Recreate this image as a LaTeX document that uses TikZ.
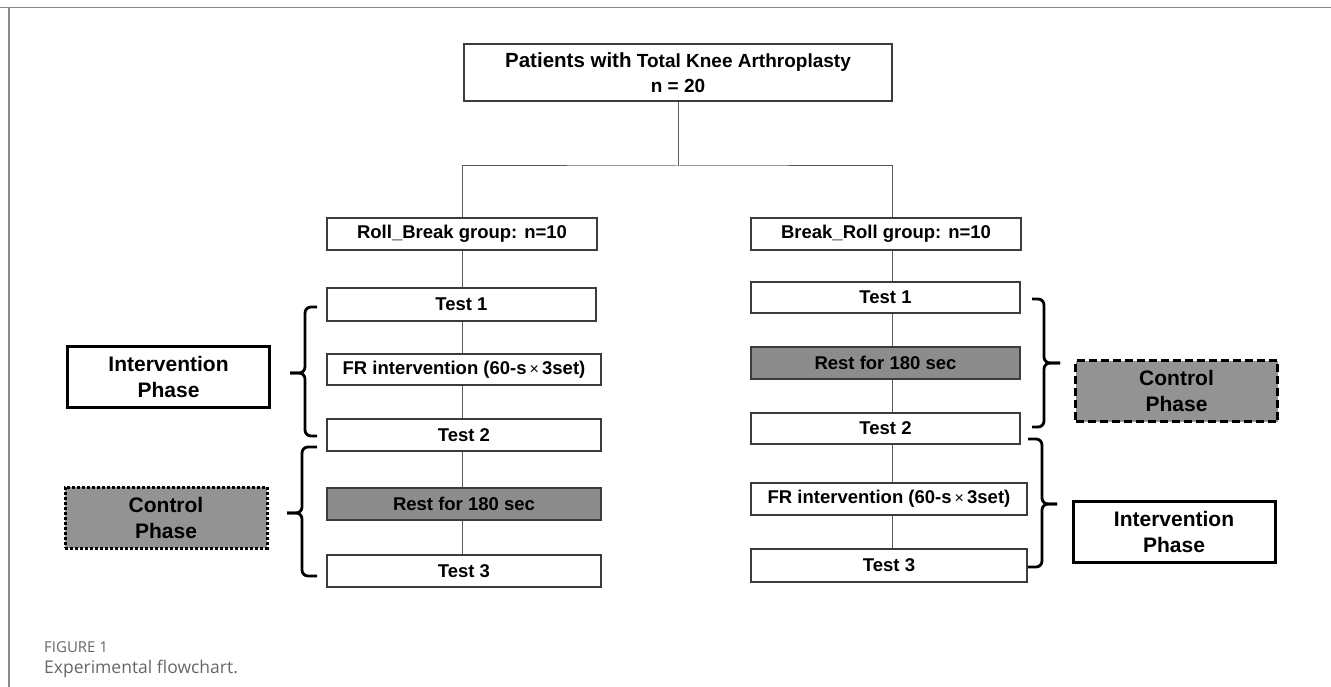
\documentclass[tikz,border=0pt]{standalone}
\usepackage{fontspec}
\setmainfont{Liberation Sans}
\newfontfamily\capfont{Open Sans}

\definecolor{boxline}{HTML}{3C3C3C}
\definecolor{linkgray}{HTML}{5A5A5A}
\definecolor{restgray}{HTML}{8C8C8C}
\definecolor{phasegray}{HTML}{939393}
\definecolor{framegray}{HTML}{8A8A8A}
\definecolor{capgray}{HTML}{666666}

\newcommand{\boxfont}{\bfseries\fontsize{18.5}{22}\selectfont}
\newcommand{\phasefont}{\bfseries\fontsize{21}{26}\selectfont}

\tikzset{
	box/.style={draw=boxline, line width=1.2pt, fill=white, minimum height=32pt, inner sep=0pt, font=\boxfont},
	restbox/.style={box, fill=restgray},
	phase/.style={draw=black, line width=3pt, minimum width=202pt, minimum height=61pt, inner sep=0pt, align=center, font=\phasefont},
	link/.style={draw=linkgray, line width=1pt},
	bracket/.style={draw=black, line width=2.8pt, rounded corners=6pt},
	frame/.style={draw=framegray, line width=1.5pt},
}

\begin{document}
\begin{tikzpicture}[x=1pt, y=1pt]

	\useasboundingbox (0,0) rectangle (1331,-687);
	\draw [frame] (0,-7.5) -- (1331,-7.5);
	\draw [frame] (9,-7.5) -- (9,-687);

	\coordinate (lcol) at (462,0);
	\coordinate (rcol) at (892,0);
	\coordinate (split) at (678,-166);

	\node [box, minimum width=428pt, minimum height=57pt, align=center, font=\bfseries\fontsize{19}{25}\selectfont] (patients) at (678,-72.5)
		{{\fontsize{20.5}{25}\selectfont Patients with} Total Knee Arthroplasty\\
		n = 20};

	% Roll_Break side
	\node [box, minimum width=270pt] (rollbreak) at (462,-234) {Roll\_Break group: n=10};
	\node [box, minimum width=269pt, minimum height=33pt] (lt1) at (461.5,-304.5) {Test 1};
	\node [box, minimum width=274pt, minimum height=31pt] (lfr) at (464,-369.5) {FR intervention (60-s\,{\mdseries\fontsize{16}{20}\selectfont ×}\,3set)};
	\node [box, minimum width=274pt] (lt2) at (464,-435) {Test 2};
	\node [restbox, minimum width=274pt] (lrest) at (464,-504) {Rest for 180 sec};
	\node [box, minimum width=274pt] (lt3) at (464,-571) {Test 3};

	% Break_Roll side
	\node [box, minimum width=270pt] (breakroll) at (886,-234) {Break\_Roll group: n=10};
	\node [box, minimum width=269pt, minimum height=31pt] (rt1) at (885.5,-297.5) {Test 1};
	\node [restbox, minimum width=269pt] (rrest) at (885.5,-363) {Rest for 180 sec};
	\node [box, minimum width=269pt, minimum height=31pt] (rt2) at (885.5,-428.5) {Test 2};
	\node [box, minimum width=276pt] (rfr) at (889,-499) {FR intervention (60-s\,{\mdseries\fontsize{16}{20}\selectfont ×}\,3set)};
	\node [box, minimum width=276pt, minimum height=33pt] (rt3) at (889,-565.5) {Test 3};

	\draw [link] (patients) -- (split);
	\draw [link] (rollbreak.north -| lcol) |- (split) -| (breakroll.north -| rcol);

	\foreach \a/\b in {rollbreak/lt1, lt1/lfr, lfr/lt2, lt2/lrest, lrest/lt3}
		\draw [link] (\a.south -| lcol) -- (\b.north -| lcol);
	\foreach \a/\b in {breakroll/rt1, rt1/rrest, rrest/rt2, rt2/rfr, rfr/rt3}
		\draw [link] (\a.south -| rcol) -- (\b.north -| rcol);

	% phases
	\node [phase] (linter) at (168.5,-377) {Intervention\\Phase};
	\node [phase, fill=phasegray, dash pattern=on 3pt off 2pt] (lcontrol) at (166,-517.5) {Control\\Phase};
	\node [phase, fill=phasegray, dash pattern=on 8pt off 4pt] (rcontrol) at (1176.5,-391) {Control\\Phase};
	\node [phase] (rinter) at (1174,-532) {Intervention\\Phase};

	% braces: end x / spine x / tip x / top y / mid y / bottom y
	\foreach \xe/\xs/\xt/\yt/\ym/\yb in {317/305/290/307/373/436, 317/302/287/447/513/576,
			1032/1044/1060/299/363/427, 1028/1042/1057/439/504/567}
	{
		\draw [bracket] (\xe,-\yt) -- (\xs,-\yt) -- (\xs,-\ym) -- (\xt,-\ym);
		\draw [bracket] (\xt,-\ym) -- (\xs,-\ym) -- (\xs,-\yb) -- (\xe,-\yb);
	}

	% caption
	\node [anchor=base west, inner sep=0pt, text=capgray, font=\capfont\fontsize{15}{17}\selectfont] (figno) at (44,-652) {FIGURE 1};
	\node [anchor=base west, inner sep=0pt, text=capgray, font=\capfont\fontsize{17.5}{20}\selectfont] (figcap) at (44,-673) {Experimental flowchart.};

\end{tikzpicture}
\end{document}
